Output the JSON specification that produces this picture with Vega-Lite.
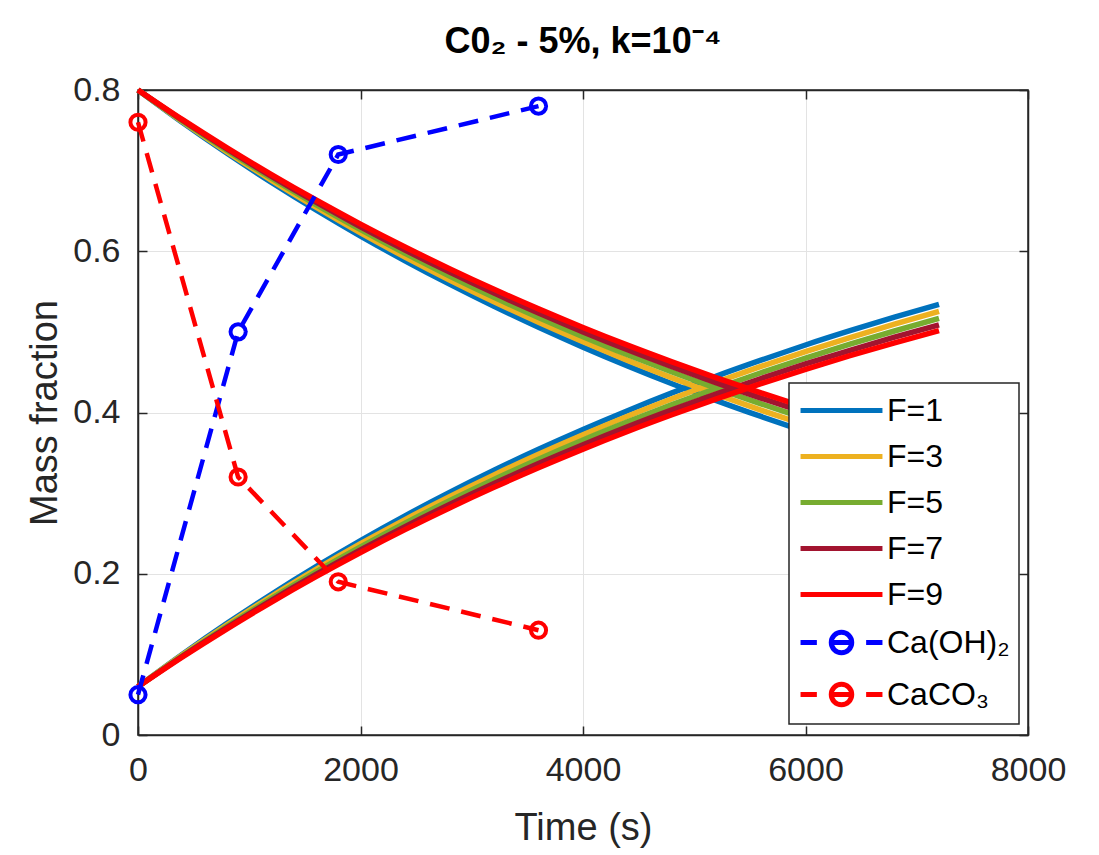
{
"$schema": "https://vega.github.io/schema/vega-lite/v6.json",
"width": 890,
"height": 645,
"autosize": {"type": "none"},
"padding": {"left": 138, "top": 90, "right": 71, "bottom": 120},
"background": "white",
"title": {"text": "C0₂ - 5%, k=10⁻⁴", "fontSize": 36, "fontWeight": "bold", "font": "Liberation Sans", "color": "black", "offset": 12, "anchor": "middle"},
"config": {
  "view": {"stroke": "#262626", "strokeWidth": 1.5},
  "font": "Liberation Sans",
  "axis": {
    "domainColor": "#262626", "domainWidth": 1.5,
    "tickColor": "#262626", "tickWidth": 1.5, "tickSize": -9,
    "labelFont": "Liberation Sans", "labelFontSize": 34, "labelColor": "#262626", "labelFlush": false,
    "titleFont": "Liberation Sans", "titleFontSize": 38, "titleFontWeight": "normal", "titleColor": "#262626",
    "gridColor": "#e3e3e3", "gridWidth": 1
  },
  "legend": {
    "orient": "none", "legendX": 651, "legendY": 293,
    "fillColor": "white", "strokeColor": "#262626", "strokeWidth": 1.5,
    "padding": 9, "labelFont": "Liberation Sans", "labelFontSize": 32, "labelColor": "black",
    "symbolSize": 1024, "symbolStrokeWidth": 5, "symbolOffset": 25, "labelOffset": 27, "rowPadding": 11, "labelLimit": 0
  }
},
"datasets": {
  "curves": [
    {"series":"F=1","branch":"up","time":0,"mass":0.0600},{"series":"F=1","branch":"up","time":400,"mass":0.1003},{"series":"F=1","branch":"up","time":800,"mass":0.1385},{"series":"F=1","branch":"up","time":1200,"mass":0.1746},{"series":"F=1","branch":"up","time":1600,"mass":0.2088},{"series":"F=1","branch":"up","time":2000,"mass":0.2412},{"series":"F=1","branch":"up","time":2400,"mass":0.2718},{"series":"F=1","branch":"up","time":2800,"mass":0.3008},{"series":"F=1","branch":"up","time":3200,"mass":0.3283},{"series":"F=1","branch":"up","time":3600,"mass":0.3543},{"series":"F=1","branch":"up","time":4000,"mass":0.3789},{"series":"F=1","branch":"up","time":4400,"mass":0.4022},{"series":"F=1","branch":"up","time":4800,"mass":0.4243},{"series":"F=1","branch":"up","time":5200,"mass":0.4452},{"series":"F=1","branch":"up","time":5600,"mass":0.4649},{"series":"F=1","branch":"up","time":6000,"mass":0.4837},{"series":"F=1","branch":"up","time":6400,"mass":0.5014},{"series":"F=1","branch":"up","time":6800,"mass":0.5182},{"series":"F=1","branch":"up","time":7200,"mass":0.5340},
    {"series":"F=1","branch":"down","time":0,"mass":0.8000},{"series":"F=1","branch":"down","time":400,"mass":0.7597},{"series":"F=1","branch":"down","time":800,"mass":0.7215},{"series":"F=1","branch":"down","time":1200,"mass":0.6854},{"series":"F=1","branch":"down","time":1600,"mass":0.6512},{"series":"F=1","branch":"down","time":2000,"mass":0.6188},{"series":"F=1","branch":"down","time":2400,"mass":0.5882},{"series":"F=1","branch":"down","time":2800,"mass":0.5592},{"series":"F=1","branch":"down","time":3200,"mass":0.5317},{"series":"F=1","branch":"down","time":3600,"mass":0.5057},{"series":"F=1","branch":"down","time":4000,"mass":0.4811},{"series":"F=1","branch":"down","time":4400,"mass":0.4578},{"series":"F=1","branch":"down","time":4800,"mass":0.4357},{"series":"F=1","branch":"down","time":5200,"mass":0.4148},{"series":"F=1","branch":"down","time":5600,"mass":0.3951},{"series":"F=1","branch":"down","time":6000,"mass":0.3763},{"series":"F=1","branch":"down","time":6400,"mass":0.3586},{"series":"F=1","branch":"down","time":6800,"mass":0.3418},{"series":"F=1","branch":"down","time":7200,"mass":0.3260},
    {"series":"F=3","branch":"up","time":0,"mass":0.0600},{"series":"F=3","branch":"up","time":400,"mass":0.0994},{"series":"F=3","branch":"up","time":800,"mass":0.1367},{"series":"F=3","branch":"up","time":1200,"mass":0.1720},{"series":"F=3","branch":"up","time":1600,"mass":0.2054},{"series":"F=3","branch":"up","time":2000,"mass":0.2372},{"series":"F=3","branch":"up","time":2400,"mass":0.2672},{"series":"F=3","branch":"up","time":2800,"mass":0.2956},{"series":"F=3","branch":"up","time":3200,"mass":0.3226},{"series":"F=3","branch":"up","time":3600,"mass":0.3481},{"series":"F=3","branch":"up","time":4000,"mass":0.3723},{"series":"F=3","branch":"up","time":4400,"mass":0.3953},{"series":"F=3","branch":"up","time":4800,"mass":0.4170},{"series":"F=3","branch":"up","time":5200,"mass":0.4376},{"series":"F=3","branch":"up","time":5600,"mass":0.4571},{"series":"F=3","branch":"up","time":6000,"mass":0.4755},{"series":"F=3","branch":"up","time":6400,"mass":0.4930},{"series":"F=3","branch":"up","time":6800,"mass":0.5096},{"series":"F=3","branch":"up","time":7200,"mass":0.5253},
    {"series":"F=3","branch":"down","time":0,"mass":0.8000},{"series":"F=3","branch":"down","time":400,"mass":0.7606},{"series":"F=3","branch":"down","time":800,"mass":0.7233},{"series":"F=3","branch":"down","time":1200,"mass":0.6880},{"series":"F=3","branch":"down","time":1600,"mass":0.6546},{"series":"F=3","branch":"down","time":2000,"mass":0.6228},{"series":"F=3","branch":"down","time":2400,"mass":0.5928},{"series":"F=3","branch":"down","time":2800,"mass":0.5644},{"series":"F=3","branch":"down","time":3200,"mass":0.5374},{"series":"F=3","branch":"down","time":3600,"mass":0.5119},{"series":"F=3","branch":"down","time":4000,"mass":0.4877},{"series":"F=3","branch":"down","time":4400,"mass":0.4647},{"series":"F=3","branch":"down","time":4800,"mass":0.4430},{"series":"F=3","branch":"down","time":5200,"mass":0.4224},{"series":"F=3","branch":"down","time":5600,"mass":0.4029},{"series":"F=3","branch":"down","time":6000,"mass":0.3845},{"series":"F=3","branch":"down","time":6400,"mass":0.3670},{"series":"F=3","branch":"down","time":6800,"mass":0.3504},{"series":"F=3","branch":"down","time":7200,"mass":0.3347},
    {"series":"F=5","branch":"up","time":0,"mass":0.0600},{"series":"F=5","branch":"up","time":400,"mass":0.0984},{"series":"F=5","branch":"up","time":800,"mass":0.1349},{"series":"F=5","branch":"up","time":1200,"mass":0.1694},{"series":"F=5","branch":"up","time":1600,"mass":0.2022},{"series":"F=5","branch":"up","time":2000,"mass":0.2332},{"series":"F=5","branch":"up","time":2400,"mass":0.2627},{"series":"F=5","branch":"up","time":2800,"mass":0.2906},{"series":"F=5","branch":"up","time":3200,"mass":0.3170},{"series":"F=5","branch":"up","time":3600,"mass":0.3421},{"series":"F=5","branch":"up","time":4000,"mass":0.3659},{"series":"F=5","branch":"up","time":4400,"mass":0.3884},{"series":"F=5","branch":"up","time":4800,"mass":0.4098},{"series":"F=5","branch":"up","time":5200,"mass":0.4301},{"series":"F=5","branch":"up","time":5600,"mass":0.4493},{"series":"F=5","branch":"up","time":6000,"mass":0.4675},{"series":"F=5","branch":"up","time":6400,"mass":0.4848},{"series":"F=5","branch":"up","time":6800,"mass":0.5011},{"series":"F=5","branch":"up","time":7200,"mass":0.5167},
    {"series":"F=5","branch":"down","time":0,"mass":0.8000},{"series":"F=5","branch":"down","time":400,"mass":0.7616},{"series":"F=5","branch":"down","time":800,"mass":0.7251},{"series":"F=5","branch":"down","time":1200,"mass":0.6906},{"series":"F=5","branch":"down","time":1600,"mass":0.6578},{"series":"F=5","branch":"down","time":2000,"mass":0.6268},{"series":"F=5","branch":"down","time":2400,"mass":0.5973},{"series":"F=5","branch":"down","time":2800,"mass":0.5694},{"series":"F=5","branch":"down","time":3200,"mass":0.5430},{"series":"F=5","branch":"down","time":3600,"mass":0.5179},{"series":"F=5","branch":"down","time":4000,"mass":0.4941},{"series":"F=5","branch":"down","time":4400,"mass":0.4716},{"series":"F=5","branch":"down","time":4800,"mass":0.4502},{"series":"F=5","branch":"down","time":5200,"mass":0.4299},{"series":"F=5","branch":"down","time":5600,"mass":0.4107},{"series":"F=5","branch":"down","time":6000,"mass":0.3925},{"series":"F=5","branch":"down","time":6400,"mass":0.3752},{"series":"F=5","branch":"down","time":6800,"mass":0.3589},{"series":"F=5","branch":"down","time":7200,"mass":0.3433},
    {"series":"F=7","branch":"up","time":0,"mass":0.0600},{"series":"F=7","branch":"up","time":400,"mass":0.0976},{"series":"F=7","branch":"up","time":800,"mass":0.1332},{"series":"F=7","branch":"up","time":1200,"mass":0.1671},{"series":"F=7","branch":"up","time":1600,"mass":0.1992},{"series":"F=7","branch":"up","time":2000,"mass":0.2296},{"series":"F=7","branch":"up","time":2400,"mass":0.2585},{"series":"F=7","branch":"up","time":2800,"mass":0.2859},{"series":"F=7","branch":"up","time":3200,"mass":0.3119},{"series":"F=7","branch":"up","time":3600,"mass":0.3366},{"series":"F=7","branch":"up","time":4000,"mass":0.3600},{"series":"F=7","branch":"up","time":4400,"mass":0.3822},{"series":"F=7","branch":"up","time":4800,"mass":0.4032},{"series":"F=7","branch":"up","time":5200,"mass":0.4232},{"series":"F=7","branch":"up","time":5600,"mass":0.4422},{"series":"F=7","branch":"up","time":6000,"mass":0.4602},{"series":"F=7","branch":"up","time":6400,"mass":0.4772},{"series":"F=7","branch":"up","time":6800,"mass":0.4934},{"series":"F=7","branch":"up","time":7200,"mass":0.5088},
    {"series":"F=7","branch":"down","time":0,"mass":0.8000},{"series":"F=7","branch":"down","time":400,"mass":0.7624},{"series":"F=7","branch":"down","time":800,"mass":0.7268},{"series":"F=7","branch":"down","time":1200,"mass":0.6929},{"series":"F=7","branch":"down","time":1600,"mass":0.6608},{"series":"F=7","branch":"down","time":2000,"mass":0.6304},{"series":"F=7","branch":"down","time":2400,"mass":0.6015},{"series":"F=7","branch":"down","time":2800,"mass":0.5741},{"series":"F=7","branch":"down","time":3200,"mass":0.5481},{"series":"F=7","branch":"down","time":3600,"mass":0.5234},{"series":"F=7","branch":"down","time":4000,"mass":0.5000},{"series":"F=7","branch":"down","time":4400,"mass":0.4778},{"series":"F=7","branch":"down","time":4800,"mass":0.4568},{"series":"F=7","branch":"down","time":5200,"mass":0.4368},{"series":"F=7","branch":"down","time":5600,"mass":0.4178},{"series":"F=7","branch":"down","time":6000,"mass":0.3998},{"series":"F=7","branch":"down","time":6400,"mass":0.3828},{"series":"F=7","branch":"down","time":6800,"mass":0.3666},{"series":"F=7","branch":"down","time":7200,"mass":0.3512},
    {"series":"F=9","branch":"up","time":0,"mass":0.0600},{"series":"F=9","branch":"up","time":400,"mass":0.0968},{"series":"F=9","branch":"up","time":800,"mass":0.1317},{"series":"F=9","branch":"up","time":1200,"mass":0.1649},{"series":"F=9","branch":"up","time":1600,"mass":0.1964},{"series":"F=9","branch":"up","time":2000,"mass":0.2263},{"series":"F=9","branch":"up","time":2400,"mass":0.2547},{"series":"F=9","branch":"up","time":2800,"mass":0.2816},{"series":"F=9","branch":"up","time":3200,"mass":0.3072},{"series":"F=9","branch":"up","time":3600,"mass":0.3315},{"series":"F=9","branch":"up","time":4000,"mass":0.3546},{"series":"F=9","branch":"up","time":4400,"mass":0.3765},{"series":"F=9","branch":"up","time":4800,"mass":0.3972},{"series":"F=9","branch":"up","time":5200,"mass":0.4170},{"series":"F=9","branch":"up","time":5600,"mass":0.4357},{"series":"F=9","branch":"up","time":6000,"mass":0.4535},{"series":"F=9","branch":"up","time":6400,"mass":0.4704},{"series":"F=9","branch":"up","time":6800,"mass":0.4864},{"series":"F=9","branch":"up","time":7200,"mass":0.5016},
    {"series":"F=9","branch":"down","time":0,"mass":0.8000},{"series":"F=9","branch":"down","time":400,"mass":0.7632},{"series":"F=9","branch":"down","time":800,"mass":0.7283},{"series":"F=9","branch":"down","time":1200,"mass":0.6951},{"series":"F=9","branch":"down","time":1600,"mass":0.6636},{"series":"F=9","branch":"down","time":2000,"mass":0.6337},{"series":"F=9","branch":"down","time":2400,"mass":0.6053},{"series":"F=9","branch":"down","time":2800,"mass":0.5784},{"series":"F=9","branch":"down","time":3200,"mass":0.5528},{"series":"F=9","branch":"down","time":3600,"mass":0.5285},{"series":"F=9","branch":"down","time":4000,"mass":0.5054},{"series":"F=9","branch":"down","time":4400,"mass":0.4835},{"series":"F=9","branch":"down","time":4800,"mass":0.4628},{"series":"F=9","branch":"down","time":5200,"mass":0.4430},{"series":"F=9","branch":"down","time":5600,"mass":0.4243},{"series":"F=9","branch":"down","time":6000,"mass":0.4065},{"series":"F=9","branch":"down","time":6400,"mass":0.3896},{"series":"F=9","branch":"down","time":6800,"mass":0.3736},{"series":"F=9","branch":"down","time":7200,"mass":0.3584}
  ],
  "lab": [
    {"series":"Ca(OH)₂","time":0,"mass":0.05},{"series":"Ca(OH)₂","time":900,"mass":0.50},{"series":"Ca(OH)₂","time":1800,"mass":0.72},{"series":"Ca(OH)₂","time":3600,"mass":0.78},
    {"series":"CaCO₃","time":0,"mass":0.76},{"series":"CaCO₃","time":900,"mass":0.32},{"series":"CaCO₃","time":1800,"mass":0.19},{"series":"CaCO₃","time":3600,"mass":0.13}
  ]
},
"layer": [
  {
    "data": {"name": "curves"},
    "mark": {"type": "line", "strokeWidth": 5.5, "interpolate": "monotone"},
    "encoding": {
      "x": {"field": "time", "type": "quantitative", "scale": {"domain": [0, 8000], "nice": false},
        "axis": {"title": "Time (s)", "values": [0, 2000, 4000, 6000, 8000], "format": "d", "grid": true, "labelPadding": 27, "titlePadding": 22}},
      "y": {"field": "mass", "type": "quantitative", "scale": {"domain": [0, 0.8], "nice": false},
        "axis": {"title": "Mass fraction", "values": [0, 0.2, 0.4, 0.6, 0.8], "format": "~g", "grid": true, "labelPadding": 27, "titlePadding": 8}},
      "color": {"field": "series", "type": "nominal",
        "scale": {"domain": ["F=1", "F=3", "F=5", "F=7", "F=9", "Ca(OH)₂", "CaCO₃"],
                  "range": ["#0072BD", "#EDB120", "#77AC30", "#A2142F", "#FF0000", "#0000FF", "#FF0000"]},
        "legend": {"title": null,
          "encode": {"symbols": {"update": {
            "shape": {"signal": "(datum.value === 'Ca(OH)₂' || datum.value === 'CaCO₃') ? 'M-2.56,0H-1.54M1.54,0H2.56M-0.64,0H0.64M0.64,0A0.64,0.64 0 1,1 -0.64,0A0.64,0.64 0 1,1 0.64,0' : 'M-2.56,0H2.56'"},
            "fill": {"value": "transparent"},
            "strokeWidth": {"value": 5}}}}}},
      "detail": {"field": "branch", "type": "nominal"}
    }
  },
  {
    "data": {"name": "lab"},
    "mark": {"type": "line", "strokeWidth": 4.5, "strokeDash": [20, 12]},
    "encoding": {
      "x": {"field": "time", "type": "quantitative", "axis": {"orient": "top", "title": null, "labels": false, "grid": false, "values": [0, 2000, 4000, 6000, 8000]}},
      "y": {"field": "mass", "type": "quantitative", "axis": {"orient": "right", "title": null, "labels": false, "grid": false, "values": [0, 0.2, 0.4, 0.6, 0.8]}},
      "color": {"field": "series", "type": "nominal"}
    }
  },
  {
    "data": {"name": "lab"},
    "mark": {"type": "point", "shape": "circle", "filled": false, "size": 230, "strokeWidth": 4, "opacity": 1},
    "encoding": {
      "x": {"field": "time", "type": "quantitative", "axis": null},
      "y": {"field": "mass", "type": "quantitative", "axis": null},
      "color": {"field": "series", "type": "nominal"}
    }
  }
],
"resolve": {"axis": {"x": "independent", "y": "independent"}}
}
